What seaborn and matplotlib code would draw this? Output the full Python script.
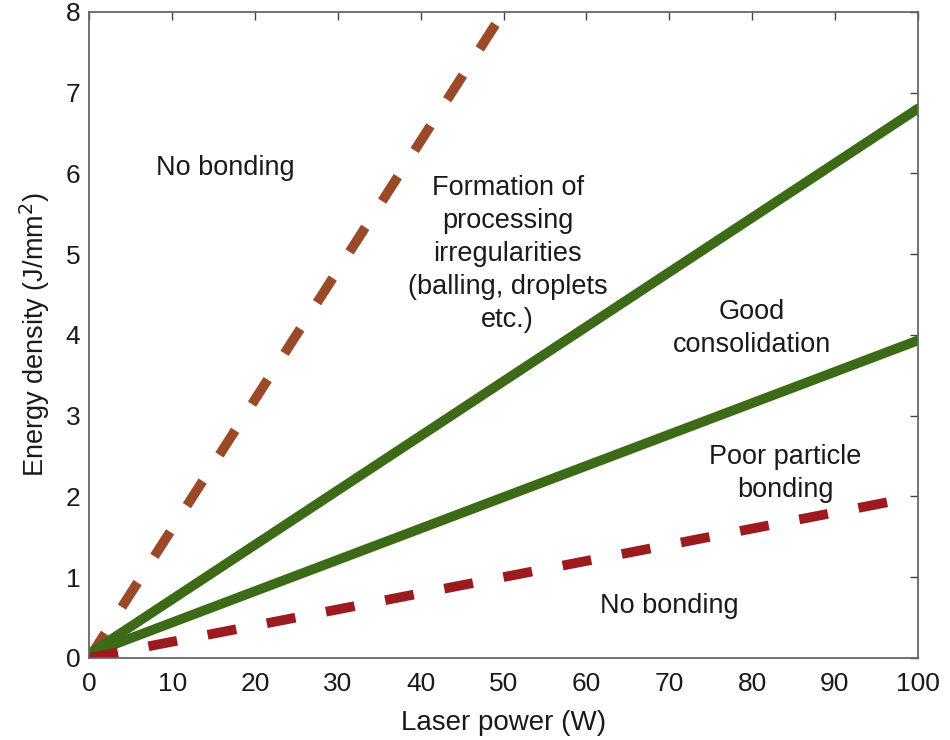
import numpy as np
import pandas as pd
import matplotlib.pyplot as plt
import seaborn as sns

# boundary lines: energy density vs laser power
power = [0, 100]
upper_dash = [0, 16.0]       # brown dashed (leaves the plot at ~50 W)
upper_green = [0.05, 6.8]
lower_green = [0.05, 3.93]
lower_dash = [0, 2.0]

sns.set_theme(style="white")
plt.rcParams['font.family'] = ['Liberation Sans', 'DejaVu Sans']

fig, ax = plt.subplots(figsize=(9.5, 7.4), dpi=100)
fig.subplots_adjust(left=0.094, right=0.966, top=0.984, bottom=0.111)

df = pd.DataFrame({'power': power, 'a': upper_dash, 'b': upper_green,
                   'c': lower_green, 'd': lower_dash})

sns.lineplot(data=df, x='power', y='a', ax=ax, color='#9a4a28', lw=7, linestyle=(0, (3.0, 3.2)))
sns.lineplot(data=df, x='power', y='b', ax=ax, color='#3d6a17', lw=7)
sns.lineplot(data=df, x='power', y='c', ax=ax, color='#3d6a17', lw=7)
sns.lineplot(data=df, x='power', y='d', ax=ax, color='#9b1b1f', lw=7, linestyle=(0, (3.0, 3.2)))

ax.set_xlim(0, 100)
ax.set_ylim(0, 8)
ax.set_xticks(range(0, 101, 10))
ax.set_yticks(range(0, 9))
ax.tick_params(direction='in', length=6, top=True, right=True, labelsize=19,
               color='#444444', width=1, labelcolor='#1a1a1a')
ax.tick_params(axis='x', pad=10)
ax.tick_params(axis='y', pad=6.5)
for s in ax.spines.values():
    s.set_color('#666666')
    s.set_linewidth(1.3)

ax.set_xlabel('Laser power (W)', fontsize=20, color='#1a1a1a', labelpad=10)
ax.set_ylabel('Energy density (J/mm$^2$)', fontsize=19.5, color='#1a1a1a', labelpad=10)

tk = dict(fontsize=19.5, ha='center', va='center', color='#1a1a1a', linespacing=1.35)
ax.text(16.4, 6.07, 'No bonding', **tk)
ax.text(50.5, 5.0, 'Formation of\nprocessing\nirregularities\n(balling, droplets\netc.)', **tk)
ax.text(80.0, 4.08, 'Good\nconsolidation', **tk)
ax.text(84, 2.28, 'Poor particle\nbonding', **tk)
ax.text(70, 0.64, 'No bonding', **tk)

fig.savefig('out.png')
